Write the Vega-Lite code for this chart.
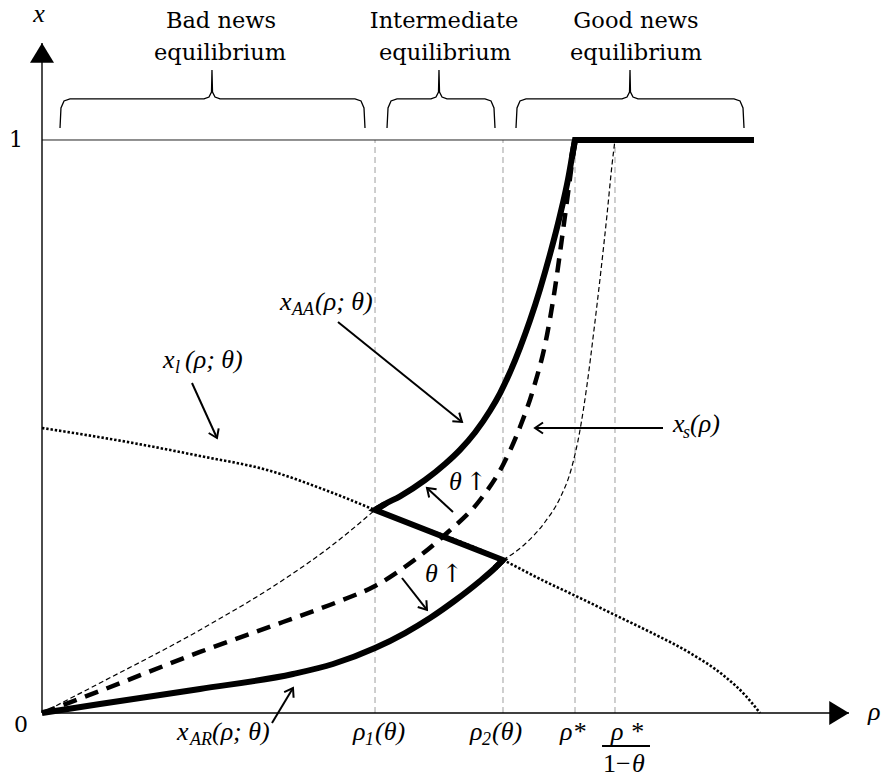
{
  "$schema": "https://vega.github.io/schema/vega-lite/v6.json",
  "width": 881,
  "height": 777,
  "autosize": {"type": "none"},
  "padding": 0,
  "background": "white",
  "config": {"view": {"stroke": null}},
  "datasets": {
    "curves": [
      {"s": "ar", "r": 0, "v": 0}, {"s": "ar", "r": 0.1088, "v": 0.0157}, {"s": "ar", "r": 0.2964, "v": 0.0419}, {"s": "ar", "r": 0.4709, "v": 0.0681}, {"s": "ar", "r": 0.5460, "v": 0.0855}, {"s": "ar", "r": 0.6248, "v": 0.1134}, {"s": "ar", "r": 0.6811, "v": 0.1396}, {"s": "ar", "r": 0.7280, "v": 0.1658}, {"s": "ar", "r": 0.7749, "v": 0.1963}, {"s": "ar", "r": 0.8218, "v": 0.2304}, {"s": "ar", "r": 0.8499, "v": 0.2531}, {"s": "ar", "r": 0.8649, "v": 0.2670},
      {"s": "aa", "r": 0.6248, "v": 0.3543}, {"s": "aa", "r": 0.6435, "v": 0.3647}, {"s": "aa", "r": 0.6717, "v": 0.3782}, {"s": "aa", "r": 0.7186, "v": 0.4066}, {"s": "aa", "r": 0.7561, "v": 0.4346}, {"s": "aa", "r": 0.7842, "v": 0.4593}, {"s": "aa", "r": 0.8124, "v": 0.4895}, {"s": "aa", "r": 0.8405, "v": 0.5274}, {"s": "aa", "r": 0.8593, "v": 0.5579}, {"s": "aa", "r": 0.8780, "v": 0.5946}, {"s": "aa", "r": 0.8968, "v": 0.6373}, {"s": "aa", "r": 0.9156, "v": 0.6853}, {"s": "aa", "r": 0.9343, "v": 0.7394}, {"s": "aa", "r": 0.9531, "v": 0.8005}, {"s": "aa", "r": 0.9719, "v": 0.8686}, {"s": "aa", "r": 0.9869, "v": 0.9314}, {"s": "aa", "r": 0.9944, "v": 0.9705}, {"s": "aa", "r": 1.0, "v": 1.0},
      {"s": "c1", "r": 0.8499, "v": 0.2531}, {"s": "c1", "r": 0.8649, "v": 0.2670}, {"s": "c1", "r": 0.6248, "v": 0.3543}, {"s": "c1", "r": 0.6435, "v": 0.3647},
      {"s": "c2", "r": 0.9944, "v": 0.9705}, {"s": "c2", "r": 1.0, "v": 1.0}, {"s": "c2", "r": 1.3358, "v": 1.0},
      {"s": "xs", "r": 0, "v": 0}, {"s": "xs", "r": 0.1088, "v": 0.0384}, {"s": "xs", "r": 0.2964, "v": 0.1065}, {"s": "xs", "r": 0.4522, "v": 0.1588}, {"s": "xs", "r": 0.5591, "v": 0.1955}, {"s": "xs", "r": 0.6248, "v": 0.2216}, {"s": "xs", "r": 0.6961, "v": 0.2653}, {"s": "xs", "r": 0.7598, "v": 0.3141}, {"s": "xs", "r": 0.8218, "v": 0.3717}, {"s": "xs", "r": 0.8649, "v": 0.4328}, {"s": "xs", "r": 0.8968, "v": 0.4991}, {"s": "xs", "r": 0.9212, "v": 0.5637}, {"s": "xs", "r": 0.9475, "v": 0.6597}, {"s": "xs", "r": 0.9625, "v": 0.7417}, {"s": "xs", "r": 0.9756, "v": 0.8290}, {"s": "xs", "r": 0.9887, "v": 0.9197}, {"s": "xs", "r": 1.0, "v": 1.0},
      {"s": "tl", "r": 0, "v": 0}, {"s": "tl", "r": 0.1088, "v": 0.0524}, {"s": "tl", "r": 0.2964, "v": 0.1449}, {"s": "tl", "r": 0.4522, "v": 0.2321}, {"s": "tl", "r": 0.5403, "v": 0.2897}, {"s": "tl", "r": 0.6248, "v": 0.3543},
      {"s": "tu", "r": 0.8649, "v": 0.2670}, {"s": "tu", "r": 0.9062, "v": 0.2949}, {"s": "tu", "r": 0.9437, "v": 0.3333}, {"s": "tu", "r": 0.9719, "v": 0.3752}, {"s": "tu", "r": 0.9925, "v": 0.4241}, {"s": "tu", "r": 1.0094, "v": 0.4939}, {"s": "tu", "r": 1.0225, "v": 0.5724}, {"s": "tu", "r": 1.0356, "v": 0.6684}, {"s": "tu", "r": 1.0488, "v": 0.7731}, {"s": "tu", "r": 1.0600, "v": 0.8691}, {"s": "tu", "r": 1.0694, "v": 0.9564}, {"s": "tu", "r": 1.0750, "v": 1.0},
      {"s": "xl", "r": 0, "v": 0.4974}, {"s": "xl", "r": 0.1707, "v": 0.4712}, {"s": "xl", "r": 0.2964, "v": 0.4485}, {"s": "xl", "r": 0.4221, "v": 0.4241}, {"s": "xl", "r": 0.5460, "v": 0.3839}, {"s": "xl", "r": 0.6248, "v": 0.3543}, {"s": "xl", "r": 0.8649, "v": 0.2670}, {"s": "xl", "r": 0.9343, "v": 0.2339}, {"s": "xl", "r": 1.0094, "v": 0.2007}, {"s": "xl", "r": 1.0788, "v": 0.1693}, {"s": "xl", "r": 1.1407, "v": 0.1414}, {"s": "xl", "r": 1.2158, "v": 0.1047}, {"s": "xl", "r": 1.2777, "v": 0.0663}, {"s": "xl", "r": 1.3189, "v": 0.0314}, {"s": "xl", "r": 1.3471, "v": 0},
      {"s": "b1", "r": 0.0338, "v": 1.0209}, {"s": "b1", "r": 0.0356, "v": 1.0558}, {"s": "b1", "r": 0.0413, "v": 1.0681}, {"s": "b1", "r": 0.0525, "v": 1.0716}, {"s": "b1", "r": 0.3039, "v": 1.0716}, {"s": "b1", "r": 0.3133, "v": 1.0750}, {"s": "b1", "r": 0.3180, "v": 1.0838}, {"s": "b1", "r": 0.3189, "v": 1.1222}, {"s": "b1", "r": 0.3199, "v": 1.0838}, {"s": "b1", "r": 0.3246, "v": 1.0750}, {"s": "b1", "r": 0.3340, "v": 1.0716}, {"s": "b1", "r": 0.5872, "v": 1.0716}, {"s": "b1", "r": 0.5985, "v": 1.0681}, {"s": "b1", "r": 0.6041, "v": 1.0558}, {"s": "b1", "r": 0.6060, "v": 1.0209},
      {"s": "b2", "r": 0.6473, "v": 1.0209}, {"s": "b2", "r": 0.6492, "v": 1.0558}, {"s": "b2", "r": 0.6548, "v": 1.0681}, {"s": "b2", "r": 0.6660, "v": 1.0716}, {"s": "b2", "r": 0.7298, "v": 1.0716}, {"s": "b2", "r": 0.7392, "v": 1.0750}, {"s": "b2", "r": 0.7439, "v": 1.0838}, {"s": "b2", "r": 0.7448, "v": 1.1222}, {"s": "b2", "r": 0.7458, "v": 1.0838}, {"s": "b2", "r": 0.7505, "v": 1.0750}, {"s": "b2", "r": 0.7598, "v": 1.0716}, {"s": "b2", "r": 0.8311, "v": 1.0716}, {"s": "b2", "r": 0.8424, "v": 1.0681}, {"s": "b2", "r": 0.8480, "v": 1.0558}, {"s": "b2", "r": 0.8499, "v": 1.0209},
      {"s": "b3", "r": 0.8893, "v": 1.0209}, {"s": "b3", "r": 0.8912, "v": 1.0558}, {"s": "b3", "r": 0.8968, "v": 1.0681}, {"s": "b3", "r": 0.9081, "v": 1.0716}, {"s": "b3", "r": 1.0882, "v": 1.0716}, {"s": "b3", "r": 1.0976, "v": 1.0750}, {"s": "b3", "r": 1.1023, "v": 1.0838}, {"s": "b3", "r": 1.1032, "v": 1.1222}, {"s": "b3", "r": 1.1041, "v": 1.0838}, {"s": "b3", "r": 1.1088, "v": 1.0750}, {"s": "b3", "r": 1.1182, "v": 1.0716}, {"s": "b3", "r": 1.2983, "v": 1.0716}, {"s": "b3", "r": 1.3096, "v": 1.0681}, {"s": "b3", "r": 1.3152, "v": 1.0558}, {"s": "b3", "r": 1.3171, "v": 1.0209}
    ],
    "segs": [
      {"s": "gray", "r": 0.6248, "v": 0, "r2": 0.6248, "v2": 1},
      {"s": "gray", "r": 0.8649, "v": 0, "r2": 0.8649, "v2": 1},
      {"s": "gray", "r": 1.0, "v": 0, "r2": 1.0, "v2": 1},
      {"s": "gray", "r": 1.075, "v": 0, "r2": 1.075, "v2": 1},
      {"s": "hline", "r": 0, "v": 1, "r2": 1.0, "v2": 1},
      {"s": "axis", "r": 0, "v": 0, "r2": 0, "v2": 1.1693},
      {"s": "axis", "r": 0, "v": 0, "r2": 1.5141, "v2": 0},
      {"s": "bar", "r": 1.0507, "v": -0.0576, "r2": 1.1407, "v2": -0.0576},
      {"s": "arrow", "r": 0.5553, "v": 0.6824, "r2": 0.7880, "v2": 0.5079},
      {"s": "arrow", "r": 0.2814, "v": 0.5759, "r2": 0.3283, "v2": 0.4799},
      {"s": "arrow", "r": 1.1651, "v": 0.4974, "r2": 0.9250, "v2": 0.4974},
      {"s": "arrow", "r": 0.7711, "v": 0.3508, "r2": 0.7223, "v2": 0.3927},
      {"s": "arrow", "r": 0.6754, "v": 0.2356, "r2": 0.7223, "v2": 0.1798},
      {"s": "arrow", "r": 0.4315, "v": -0.0175, "r2": 0.4709, "v2": 0.0436}
    ],
    "texts": [
      {"g": "title", "t": "Bad news", "r": 0.3358, "v": 1.1955},
      {"g": "title", "t": "equilibrium", "r": 0.3340, "v": 1.1396},
      {"g": "title", "t": "Intermediate", "r": 0.7542, "v": 1.1955},
      {"g": "title", "t": "equilibrium", "r": 0.7561, "v": 1.1396},
      {"g": "title", "t": "Good news", "r": 1.1144, "v": 1.1955},
      {"g": "title", "t": "equilibrium", "r": 1.1144, "v": 1.1396},
      {"g": "num", "t": "1", "r": -0.0488, "v": 0.9878},
      {"g": "num", "t": "0", "r": -0.0394, "v": -0.0332},
      {"g": "mc", "t": "x", "r": -0.0056, "v": 1.2059},
      {"g": "mc", "t": "ρ *", "r": 1.0976, "v": -0.0471},
      {"g": "m", "t": "ρ", "r": 1.5497, "v": -0.0122},
      {"g": "m", "t": "x", "r": 0.4465, "v": 0.7033},
      {"g": "m", "t": "(ρ; θ)", "r": 0.5122, "v": 0.7033},
      {"g": "m", "t": "x", "r": 0.2270, "v": 0.6021},
      {"g": "m", "t": "(ρ; θ)", "r": 0.2683, "v": 0.6021},
      {"g": "m", "t": "x", "r": 1.1839, "v": 0.4904},
      {"g": "m", "t": "(ρ)", "r": 1.2158, "v": 0.4904},
      {"g": "m", "t": "x", "r": 0.2533, "v": -0.0471},
      {"g": "m", "t": "(ρ; θ)", "r": 0.3189, "v": -0.0471},
      {"g": "m", "t": "ρ", "r": 0.5835, "v": -0.0471},
      {"g": "m", "t": "(θ)", "r": 0.6248, "v": -0.0471},
      {"g": "m", "t": "ρ", "r": 0.8030, "v": -0.0471},
      {"g": "m", "t": "(θ)", "r": 0.8443, "v": -0.0471},
      {"g": "m", "t": "ρ*", "r": 0.9719, "v": -0.0471},
      {"g": "m", "t": "θ", "r": 1.1069, "v": -0.1030},
      {"g": "m", "t": "θ", "r": 0.7636, "v": 0.3892},
      {"g": "m", "t": "θ", "r": 0.7186, "v": 0.2286},
      {"g": "sub", "t": "AA", "r": 0.4690, "v": 0.6946},
      {"g": "sub", "t": "l", "r": 0.2495, "v": 0.5934},
      {"g": "sub", "t": "s", "r": 1.2026, "v": 0.4799},
      {"g": "sub", "t": "AR", "r": 0.2777, "v": -0.0558},
      {"g": "sub", "t": "1", "r": 0.6060, "v": -0.0558},
      {"g": "sub", "t": "2", "r": 0.8255, "v": -0.0558},
      {"g": "up", "t": "1−", "r": 1.0525, "v": -0.1030},
      {"g": "arr", "t": "↑", "r": 0.7955, "v": 0.3892},
      {"g": "arr", "t": "↑", "r": 0.7504, "v": 0.2286}
    ]
  },
  "encoding": {
    "x": {"field": "r", "type": "quantitative", "scale": {"domain": [-0.0788, 1.5741], "nice": false, "zero": false}, "axis": null},
    "y": {"field": "v", "type": "quantitative", "scale": {"domain": [-0.1117, 1.2443], "nice": false, "zero": false}, "axis": null}
  },
  "layer": [
    {"data": {"name": "segs"}, "transform": [{"filter": "datum.s === 'gray'"}],
     "mark": {"type": "rule", "stroke": "#b5b5b5", "strokeWidth": 1.3, "strokeDash": [6, 4]},
     "encoding": {"x2": {"field": "r2"}, "y2": {"field": "v2"}}},
    {"data": {"name": "segs"}, "transform": [{"filter": "datum.s === 'hline'"}],
     "mark": {"type": "rule", "stroke": "#222222", "strokeWidth": 1},
     "encoding": {"x2": {"field": "r2"}, "y2": {"field": "v2"}}},
    {"data": {"name": "curves"}, "transform": [{"window": [{"op": "row_number", "as": "i"}]}, {"filter": "datum.s === 'tl' || datum.s === 'tu'"}],
     "mark": {"type": "line", "stroke": "#000000", "strokeWidth": 1.2, "strokeDash": [5, 3], "interpolate": "monotone"},
     "encoding": {"detail": {"field": "s"}, "order": {"field": "i", "type": "quantitative"}}},
    {"data": {"name": "curves"}, "transform": [{"window": [{"op": "row_number", "as": "i"}]}, {"filter": "datum.s === 'xl'"}],
     "mark": {"type": "line", "stroke": "#000000", "strokeWidth": 2.6, "strokeDash": [2.4, 1.9], "interpolate": "monotone"},
     "encoding": {"order": {"field": "i", "type": "quantitative"}}},
    {"data": {"name": "curves"}, "transform": [{"window": [{"op": "row_number", "as": "i"}]}, {"filter": "datum.s === 'xs'"}],
     "mark": {"type": "line", "stroke": "#000000", "strokeWidth": 4.5, "strokeDash": [14, 9], "interpolate": "monotone"},
     "encoding": {"order": {"field": "i", "type": "quantitative"}}},
    {"data": {"name": "curves"}, "transform": [{"window": [{"op": "row_number", "as": "i"}]}, {"filter": "datum.s === 'ar' || datum.s === 'aa'"}],
     "mark": {"type": "line", "stroke": "#000000", "strokeWidth": 6, "strokeCap": "butt", "interpolate": "monotone"},
     "encoding": {"detail": {"field": "s"}, "order": {"field": "i", "type": "quantitative"}}},
    {"data": {"name": "curves"}, "transform": [{"window": [{"op": "row_number", "as": "i"}]}, {"filter": "datum.s === 'c1' || datum.s === 'c2'"}],
     "mark": {"type": "line", "stroke": "#000000", "strokeWidth": 6, "strokeJoin": "miter", "strokeCap": "butt"},
     "encoding": {"detail": {"field": "s"}, "order": {"field": "i", "type": "quantitative"}}},
    {"data": {"name": "curves"}, "transform": [{"window": [{"op": "row_number", "as": "i"}]}, {"filter": "datum.s === 'b1' || datum.s === 'b2' || datum.s === 'b3'"}],
     "mark": {"type": "line", "stroke": "#000000", "strokeWidth": 1.3},
     "encoding": {"detail": {"field": "s"}, "order": {"field": "i", "type": "quantitative"}}},
    {"data": {"name": "segs"}, "transform": [{"filter": "datum.s === 'axis'"}],
     "mark": {"type": "rule", "stroke": "#000000", "strokeWidth": 1.4},
     "encoding": {"x2": {"field": "r2"}, "y2": {"field": "v2"}}},
    {"data": {"name": "segs"}, "transform": [{"filter": "datum.s === 'arrow'"}],
     "mark": {"type": "rule", "stroke": "#000000", "strokeWidth": 2},
     "encoding": {"x2": {"field": "r2"}, "y2": {"field": "v2"}}},
    {"data": {"name": "segs"}, "transform": [{"filter": "datum.s === 'bar'"}],
     "mark": {"type": "rule", "stroke": "#000000", "strokeWidth": 1.8},
     "encoding": {"x2": {"field": "r2"}, "y2": {"field": "v2"}}},
    {"data": {"name": "segs"}, "transform": [{"filter": "datum.s === 'axis'"}, {"calculate": "atan2((datum.r2 - datum.r) * 533, (datum.v2 - datum.v) * 573) * 180 / PI", "as": "ang"}],
     "mark": {"type": "point", "shape": "M0,0 L1,1.65 L-1,1.65 Z", "filled": true, "fill": "#000000", "strokeWidth": 0, "size": 576, "opacity": 1},
     "encoding": {"x": {"field": "r2", "type": "quantitative", "axis": null}, "y": {"field": "v2", "type": "quantitative", "axis": null}, "angle": {"field": "ang", "type": "quantitative", "scale": null}}},
    {"data": {"name": "segs"}, "transform": [{"filter": "datum.s === 'arrow'"}, {"calculate": "atan2((datum.r2 - datum.r) * 533, (datum.v2 - datum.v) * 573) * 180 / PI", "as": "ang"}],
     "mark": {"type": "point", "shape": "M-0.55,0.8 L0,0 L0.55,0.8", "filled": false, "stroke": "#000000", "strokeWidth": 2, "size": 400, "opacity": 1},
     "encoding": {"x": {"field": "r2", "type": "quantitative", "axis": null}, "y": {"field": "v2", "type": "quantitative", "axis": null}, "angle": {"field": "ang", "type": "quantitative", "scale": null}}},
    {"data": {"name": "texts"}, "transform": [{"filter": "datum.g === 'title'"}],
     "mark": {"type": "text", "font": "DejaVu Serif", "fontSize": 22.5, "align": "center", "baseline": "alphabetic", "color": "#000000"},
     "encoding": {"text": {"field": "t"}}},
    {"data": {"name": "texts"}, "transform": [{"filter": "datum.g === 'num'"}],
     "mark": {"type": "text", "font": "DejaVu Serif", "fontSize": 22, "align": "center", "baseline": "alphabetic", "color": "#000000"},
     "encoding": {"text": {"field": "t"}}},
    {"data": {"name": "texts"}, "transform": [{"filter": "datum.g === 'mc'"}],
     "mark": {"type": "text", "font": "Liberation Serif", "fontStyle": "italic", "fontSize": 26, "align": "center", "baseline": "alphabetic", "color": "#000000"},
     "encoding": {"text": {"field": "t"}}},
    {"data": {"name": "texts"}, "transform": [{"filter": "datum.g === 'm'"}],
     "mark": {"type": "text", "font": "Liberation Serif", "fontStyle": "italic", "fontSize": 26, "align": "left", "baseline": "alphabetic", "color": "#000000"},
     "encoding": {"text": {"field": "t"}}},
    {"data": {"name": "texts"}, "transform": [{"filter": "datum.g === 'sub'"}],
     "mark": {"type": "text", "font": "Liberation Serif", "fontStyle": "italic", "fontSize": 18, "align": "left", "baseline": "alphabetic", "color": "#000000"},
     "encoding": {"text": {"field": "t"}}},
    {"data": {"name": "texts"}, "transform": [{"filter": "datum.g === 'up'"}],
     "mark": {"type": "text", "font": "Liberation Serif", "fontSize": 26, "align": "left", "baseline": "alphabetic", "color": "#000000"},
     "encoding": {"text": {"field": "t"}}},
    {"data": {"name": "texts"}, "transform": [{"filter": "datum.g === 'arr'"}],
     "mark": {"type": "text", "font": "DejaVu Serif", "fontSize": 25, "align": "left", "baseline": "alphabetic", "color": "#000000"},
     "encoding": {"text": {"field": "t"}}}
  ]
}
